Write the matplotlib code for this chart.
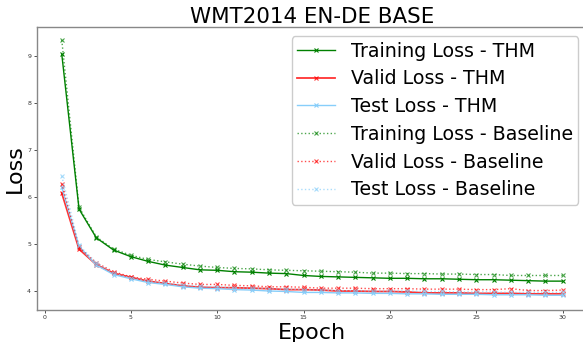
import numpy as np
import matplotlib
matplotlib.use("Agg")
import matplotlib.pyplot as plt

epochs = list(range(1, 31))

train_thm = [9.03, 5.74, 5.13, 4.87, 4.73, 4.63, 4.55, 4.50, 4.45, 4.44,
             4.41, 4.40, 4.38, 4.37, 4.33, 4.31, 4.30, 4.29, 4.28, 4.27,
             4.27, 4.26, 4.26, 4.25, 4.24, 4.24, 4.23, 4.22, 4.21, 4.21]
valid_thm = [6.08, 4.89, 4.56, 4.38, 4.29, 4.21, 4.16, 4.11, 4.08, 4.07,
             4.07, 4.06, 4.05, 4.03, 4.03, 4.02, 4.00, 4.00, 3.99, 3.99,
             3.98, 3.96, 3.96, 3.96, 3.95, 3.95, 3.95, 3.94, 3.94, 3.94]
test_thm = [6.20, 4.95, 4.55, 4.35, 4.26, 4.18, 4.14, 4.09, 4.06, 4.05,
            4.03, 4.02, 4.00, 3.99, 3.97, 3.97, 3.96, 3.96, 3.95, 3.95,
            3.94, 3.94, 3.93, 3.93, 3.93, 3.92, 3.92, 3.92, 3.91, 3.91]
train_base = [9.33, 5.78, 5.15, 4.89, 4.76, 4.67, 4.62, 4.57, 4.53, 4.50,
              4.48, 4.47, 4.45, 4.44, 4.43, 4.42, 4.41, 4.40, 4.38, 4.38,
              4.37, 4.37, 4.36, 4.36, 4.35, 4.35, 4.33, 4.33, 4.33, 4.33]
valid_base = [6.28, 4.93, 4.60, 4.41, 4.30, 4.25, 4.21, 4.17, 4.14, 4.14,
              4.12, 4.11, 4.09, 4.09, 4.08, 4.06, 4.06, 4.06, 4.05, 4.05,
              4.05, 4.04, 4.04, 4.04, 4.03, 4.03, 4.05, 4.01, 4.01, 4.02]
test_base = [6.44, 4.97, 4.60, 4.38, 4.28, 4.21, 4.17, 4.13, 4.10, 4.09,
             4.07, 4.06, 4.05, 4.04, 4.03, 4.02, 4.01, 4.01, 4.00, 4.00,
             4.00, 3.99, 3.99, 3.98, 3.98, 3.98, 3.97, 3.97, 3.97, 3.97]

fig = plt.figure(figsize=(5.83, 3.42), dpi=100)
ax = fig.add_axes([0.063, 0.094, 0.945, 0.826])

mk = dict(marker="x", markersize=3, markeredgewidth=0.8)
ax.plot(epochs, train_thm, color="green", lw=1, label="Training Loss - THM", **mk)
ax.plot(epochs, valid_thm, color="red", lw=1.3, alpha=0.8, label="Valid Loss - THM", **mk)
ax.plot(epochs, test_thm, color="lightskyblue", lw=1, label="Test Loss - THM", **mk)
ax.plot(epochs, train_base, color="green", lw=1, ls=":", alpha=0.7, label="Training Loss - Baseline", **mk)
ax.plot(epochs, valid_base, color="red", lw=1, ls=":", alpha=0.7, label="Valid Loss - Baseline", **mk)
ax.plot(epochs, test_base, color="lightskyblue", lw=1, ls=":", alpha=0.7, label="Test Loss - Baseline", **mk)

ax.set_xlim(-0.45, 31.45)
ax.set_ylim(3.6, 9.6)
ax.set_xticks([0, 5, 10, 15, 20, 25, 30])
ax.set_yticks([4, 5, 6, 7, 8, 9])
ax.tick_params(labelsize=4.5, length=2, width=0.6, colors="#333333", pad=2)
for s in ax.spines.values():
    s.set_color("#888888")
    s.set_linewidth(1)

ax.set_xlabel("Epoch", fontsize=16, labelpad=2)
ax.set_ylabel("Loss", fontsize=16, labelpad=2)
ax.set_title("WMT2014 EN-DE BASE", fontsize=15.4, pad=3)

ax.legend(loc="upper right", bbox_to_anchor=(0.992, 0.895), bbox_transform=fig.transFigure,
          borderaxespad=0, fontsize=13.7, handlelength=2.0, labelspacing=0.46,
          borderpad=0.3, framealpha=1)

fig.savefig("out.png", dpi=100)
